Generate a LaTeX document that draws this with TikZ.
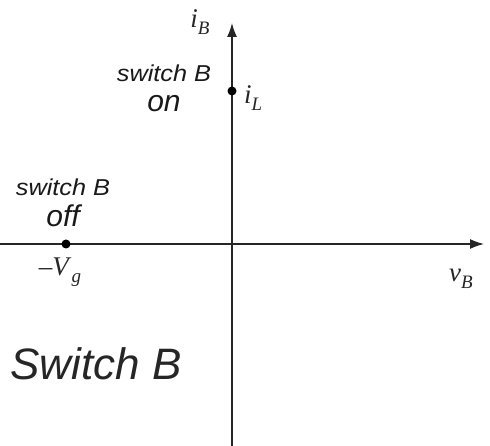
\documentclass[tikz,border=0pt]{standalone}
\usepackage{fontspec}
\setmainfont{Liberation Serif}
\setsansfont{Liberation Sans}
\usetikzlibrary{arrows.meta}
\newcommand\symsub[2]{\textit{#1}\raisebox{-0.28em}{\fontsize{19}{21}\selectfont\textit{#2}}}
\begin{document}
\begin{tikzpicture}[x=1pt,y=-1pt,
  axis/.style={line width=1.3pt,draw=black!85,-{Latex[length=14pt,width=10pt]}},
  dot/.style={circle,fill=black,inner sep=0pt,minimum size=9pt},
  lbl/.style={font=\sffamily\itshape\fontsize{23}{26}\selectfont,inner sep=0pt,text=black!90},
  big/.style={font=\sffamily\itshape\fontsize{30}{34}\selectfont,inner sep=0pt,text=black!90},
  mth/.style={font=\fontsize{27}{30}\selectfont,inner sep=0pt,text=black!85}]
\useasboundingbox (0,0) rectangle (490,446);
\coordinate (xs) at (0,244);
\coordinate (xe) at (484,244);
\coordinate (ys) at (232,446);
\coordinate (ye) at (232,23);
\draw[axis] (xs) -- (xe);
\draw[axis] (ys) -- (ye);
\node[dot] (p1) at (232,91) {};
\node[dot] (p2) at (66,244) {};
\node[mth] (iB) at (200,22) {\symsub{i}{B}};
\node[mth,anchor=west] (iL) at (244,98) {\symsub{i}{L}};
\node[mth] (vg) at (60,272) {\textendash\symsub{V}{g}};
\node[mth] (vB) at (461,279) {\symsub{v}{B}};
\node[lbl] (s1) at (164,73) {\scalebox{1.1}[1]{switch B}};
\node[big] (on) at (164,104) {on};
\node[lbl] (s2) at (63,187) {\scalebox{1.1}[1]{switch B}};
\node[big] (off) at (63,216) {off};
\node[font=\sffamily\itshape\fontsize{44}{50}\selectfont,inner sep=0pt,text=black!85] (sw) at (96,364) {Switch B};
\end{tikzpicture}
\end{document}
